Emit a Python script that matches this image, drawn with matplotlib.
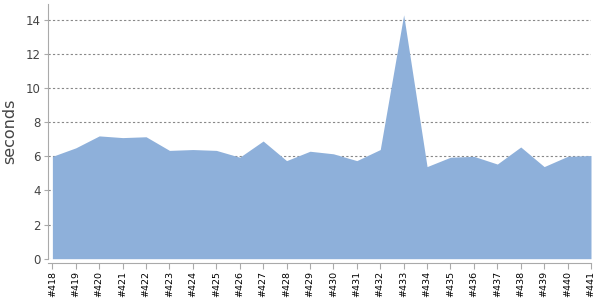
import matplotlib
matplotlib.use("Agg")
import matplotlib.pyplot as plt

builds = ["#418", "#419", "#420", "#421", "#422", "#423", "#424", "#425",
          "#426", "#427", "#428", "#429", "#430", "#431", "#432", "#433",
          "#434", "#435", "#436", "#437", "#438", "#439", "#440", "#441"]
seconds = [6.0, 6.5, 7.2, 7.1, 7.15, 6.35, 6.4, 6.35,
           5.95, 6.9, 5.75, 6.3, 6.15, 5.75, 6.4, 14.3,
           5.4, 5.95, 6.0, 5.55, 6.55, 5.4, 6.0, 6.05]
yticks = [0, 2, 4, 6, 8, 10, 12, 14]

fig = plt.figure(figsize=(6, 3), dpi=100)
ax = fig.add_axes([0.0795, 0.1377, 0.9055, 0.8493])
x = list(range(len(builds)))
ax.fill_between(x, 0, seconds, color="#8eb0da", linewidth=0, zorder=2)
ax.set_xlim(-0.2, len(builds) - 1)
ax.set_ylim(0, 14.94)
ax.set_yticks(yticks)
ax.set_yticklabels([str(v) for v in yticks])
ax.set_xticks(x)
ax.set_xticklabels(builds)
ax.grid(axis="y", color="#888888", linestyle=(0, (2, 2)), linewidth=0.8, zorder=3)
for s in ["top", "right"]:
    ax.spines[s].set_visible(False)
ax.spines["left"].set_color("#aaaaaa")
ax.spines["bottom"].set_color("#aaaaaa")
ax.spines["bottom"].set_position(("outward", 3))
ax.tick_params(axis="x", length=4, color="#aaaaaa", pad=2, labelrotation=90,
               labelsize=6.8, labelcolor="black")
ax.tick_params(axis="y", length=3, color="#aaaaaa", pad=2, labelsize=8.5,
               labelcolor="#444444")
ax.set_ylabel("seconds", fontsize=11.5, color="#444444", labelpad=6)
fig.savefig("out.png", dpi=100)
